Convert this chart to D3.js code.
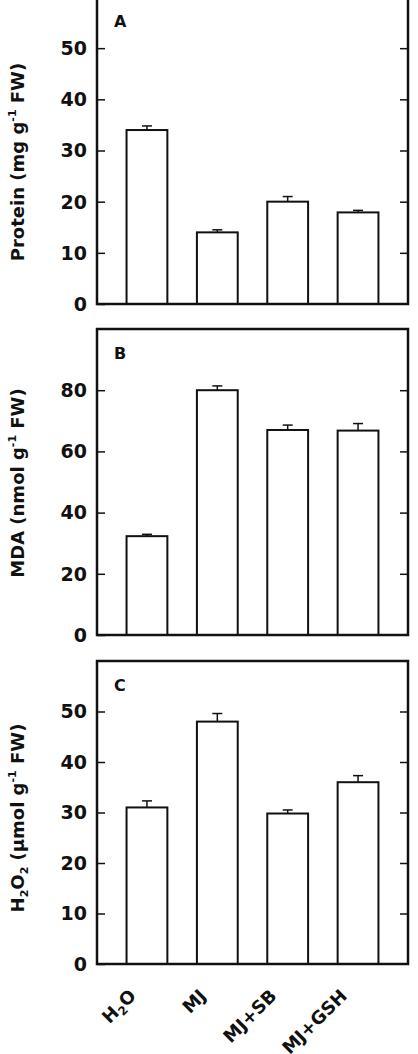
<!DOCTYPE html>
<html>
<head>
<meta charset="utf-8">
<script src="https://cdn.jsdelivr.net/npm/d3@7"></script>
<style>
  body { margin: 0; background: #fff; }
  svg { display: block; }
  text { font-family: "DejaVu Sans", "Liberation Sans", Arial, sans-serif; fill: #111; }
</style>
</head>
<body>
<div id="chart-container"></div>
<script>
// Treatments along the x axis
const treatments = ["H2O", "MJ", "MJ+SB", "MJ+GSH"];

// Panel A: protein (mg g-1 FW)
const proteinMean = [34, 14, 20, 17.9];
const proteinErr = [0.8, 0.5, 1.0, 0.4];

// Panel B: MDA (nmol g-1 FW)
const mdaMean = [32.3, 80, 67, 66.8];
const mdaErr = [0.6, 1.4, 1.6, 2.3];

// Panel C: H2O2 (umol g-1 FW)
const h2o2Mean = [31, 48, 29.8, 36];
const h2o2Err = [1.3, 1.6, 0.7, 1.3];

const proteinTicks = [0, 10, 20, 30, 40, 50];
const mdaTicks = [0, 20, 40, 60, 80];
const h2o2Ticks = [0, 10, 20, 30, 40, 50];

const W = 418, H = 1054;
const left = 97, right = 408;

const svg = d3.select("#chart-container")
  .append("svg")
  .attr("width", W)
  .attr("height", H);

const x = d3.scaleBand()
  .domain(treatments)
  .range([left, right])
  .paddingInner(0.42)
  .paddingOuter(0.42);

const panels = [
  { letter: "A", top: -3, bottom: 304, max: 60, mean: proteinMean, err: proteinErr, ticks: proteinTicks,
    label: ["Protein (mg g", "-1", " FW)"], labelY: 162 },
  { letter: "B", top: 329, bottom: 635, max: 100, mean: mdaMean, err: mdaErr, ticks: mdaTicks,
    label: ["MDA  (nmol g", "-1", " FW)"], labelY: 483 },
  { letter: "C", top: 661, bottom: 964, max: 60, mean: h2o2Mean, err: h2o2Err, ticks: h2o2Ticks,
    label: null, labelY: 818 }
];

panels.forEach(p => {
  const y = d3.scaleLinear().domain([0, p.max]).range([p.bottom, p.top]);
  const g = svg.append("g");

  // Bars
  g.selectAll("rect.bar")
    .data(treatments)
    .enter().append("rect")
    .attr("class", "bar")
    .attr("x", d => x(d))
    .attr("width", x.bandwidth())
    .attr("y", (d, i) => y(p.mean[i]))
    .attr("height", (d, i) => y(0) - y(p.mean[i]))
    .attr("fill", "#fff")
    .attr("stroke", "#111")
    .attr("stroke-width", 2);

  // Error bars (upper only)
  const cap = 5;
  treatments.forEach((d, i) => {
    const cx = x(d) + x.bandwidth() / 2;
    g.append("line")
      .attr("x1", cx).attr("x2", cx)
      .attr("y1", y(p.mean[i])).attr("y2", y(p.mean[i] + p.err[i]))
      .attr("stroke", "#111").attr("stroke-width", 1.5);
    g.append("line")
      .attr("x1", cx - cap).attr("x2", cx + cap)
      .attr("y1", y(p.mean[i] + p.err[i])).attr("y2", y(p.mean[i] + p.err[i]))
      .attr("stroke", "#111").attr("stroke-width", 1.5);
  });

  // Left axis with inward ticks
  const yAxisL = g.append("g")
    .attr("transform", `translate(${left},0)`)
    .call(d3.axisRight(y).tickValues(p.ticks).tickSize(8).tickFormat(""));
  yAxisL.select(".domain").remove();
  yAxisL.selectAll("line").attr("stroke", "#111").attr("stroke-width", 1.5);

  // Tick labels
  g.selectAll("text.tl")
    .data(p.ticks)
    .enter().append("text")
    .attr("class", "tl")
    .attr("x", left - 10)
    .attr("y", d => y(d))
    .attr("dy", "0.36em")
    .attr("text-anchor", "end")
    .style("font-size", "19px")
    .style("font-weight", "bold")
    .text(d => d);

  // Right axis with inward ticks
  const yAxisR = g.append("g")
    .attr("transform", `translate(${right},0)`)
    .call(d3.axisLeft(y).tickValues(p.ticks.filter(t => t > 0)).tickSize(8).tickFormat(""));
  yAxisR.select(".domain").remove();
  yAxisR.selectAll("line").attr("stroke", "#111").attr("stroke-width", 1.5);

  // Frame
  g.append("rect")
    .attr("x", left).attr("y", p.top)
    .attr("width", right - left).attr("height", p.bottom - p.top)
    .attr("fill", "none")
    .attr("stroke", "#111")
    .attr("stroke-width", 2.5);

  // Panel letter
  g.append("text")
    .attr("x", left + 17)
    .attr("y", p.top + 30)
    .style("font-size", "16px")
    .style("font-weight", "bold")
    .text(p.letter);

  // Y axis label
  const lab = g.append("text")
    .attr("transform", `translate(24,${p.labelY}) rotate(-90)`)
    .attr("text-anchor", "middle")
    .style("font-size", "18px")
    .style("font-weight", "bold");
  if (p.label) {
    lab.append("tspan").text(p.label[0]);
    lab.append("tspan").attr("dy", -8).style("font-size", "11px").text(p.label[1]);
    lab.append("tspan").attr("dy", 8).text(p.label[2]);
  } else {
    lab.append("tspan").text("H");
    lab.append("tspan").attr("dy", 4).style("font-size", "11px").text("2");
    lab.append("tspan").attr("dy", -4).text("O");
    lab.append("tspan").attr("dy", 4).style("font-size", "11px").text("2");
    lab.append("tspan").attr("dy", -4).text("  (\u00b5mol g");
    lab.append("tspan").attr("dy", -8).style("font-size", "11px").text("-1");
    lab.append("tspan").attr("dy", 8).text(" FW)");
  }
});

// X category labels under panel C
const bottomC = panels[2].bottom;
treatments.forEach(d => {
  const t = svg.append("text")
    .attr("transform", `translate(${x(d) + x.bandwidth() / 2 - 10},${bottomC + 33}) rotate(-45)`)
    .attr("text-anchor", "end")
    .style("font-size", "18px")
    .style("font-weight", "bold");
  if (d === "H2O") {
    t.append("tspan").text("H");
    t.append("tspan").attr("dy", 4).style("font-size", "12px").text("2");
    t.append("tspan").attr("dy", -4).text("O");
  } else {
    t.text(d);
  }
});
</script>
</body>
</html>
